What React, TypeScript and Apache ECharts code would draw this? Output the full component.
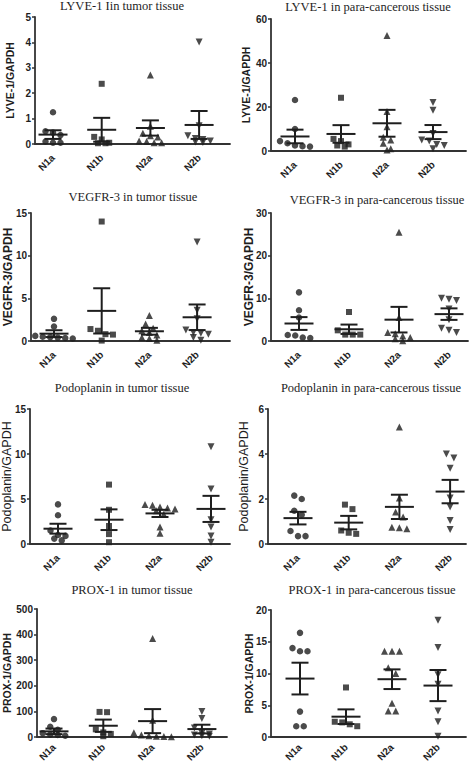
import React, { useEffect, useRef } from 'react';
import * as echarts from 'echarts';

const categories = ['N1a', 'N1b', 'N2a', 'N2b'];
const symbols = ['circle', 'rect', 'triangle', 'triangle'];
const symbolRotations = [0, 0, 0, 180];

const titles = [
  'LYVE-1 Iin tumor tissue',
  'LYVE-1 in para-cancerous tissue',
  'VEGFR-3 in tumor tissue',
  'VEGFR-3 in para-cancerous tissue',
  'Podoplanin in tumor tissue',
  'Podoplanin in para-cancerous tissue',
  'PROX-1 in tumor tissue',
  'PROX-1 in para-cancerous tissue',
];
const yNames = [
  'LYVE-1/GAPDH', 'LYVE-1/GAPDH', 'VEGFR-3/GAPDH', 'VEGFR-3/GAPDH',
  'Podoplanin/GAPDH', 'Podoplanin/GAPDH', 'PROX-1/GAPDH', 'PROX-1/GAPDH',
];
const yMax = [5, 60, 15, 30, 15, 6, 500, 20];
const yInterval = [1, 20, 5, 10, 5, 2, 100, 5];

// values per group: N1a, N1b, N2a, N2b
const lyveTumor = [
  [1.25, 0.5, 0.45, 0.35, 0.1, 0.05, 0.05],
  [2.37, 0.28, 0.18, 0.05, 0.03, 0.03],
  [2.72, 0.7, 0.42, 0.32, 0.28, 0.12, 0.1, 0.05, 0.05],
  [4.02, 0.72, 0.32, 0.22, 0.18, 0.12, 0.08, 0.06],
];
const lyveTumorMean = [0.37, 0.56, 0.63, 0.75];
const lyveTumorSem = [0.17, 0.47, 0.3, 0.55];

const lyvePara = [
  [23.2, 10, 4.5, 3.5, 2.5, 2.2, 2],
  [24.2, 5.5, 4.5, 3, 2.5, 2],
  [52.5, 18, 11, 6.3, 5, 3.5, 1, 0.5],
  [22, 18.5, 8, 5, 4.5, 3, 2.5, 1],
];
const lyveParaMean = [6.6, 7.75, 12.6, 8.6];
const lyveParaSem = [3.1, 4.0, 6.1, 3.2];

const vegfrTumor = [
  [2.6, 1.7, 0.6, 0.5, 0.45, 0.4, 0.35, 0.3],
  [14, 1.4, 1.2, 0.8, 0.75, 0.05],
  [3, 2, 1.5, 1.2, 1, 0.7, 0.4, 0.3, 0.1],
  [11.6, 3.6, 2.6, 1.3, 1.0, 0.9, 0.8, 0.4, 0.1],
];
const vegfrTumorMean = [0.86, 3.53, 1.14, 2.78];
const vegfrTumorSem = [0.4, 2.65, 0.4, 1.5];

const vegfrPara = [
  [11.4, 7.2, 5.5, 1.4, 1.3, 0.8, 0.7],
  [6.8, 2.5, 1.5, 1.5, 1.5],
  [25.5, 5.5, 2, 1.7, 1.2, 0.8, 0.5, 0.05],
  [10, 9.8, 9.5, 7.5, 5, 3, 2.5, 2],
];
const vegfrParaMean = [4.1, 2.75, 5.0, 6.3];
const vegfrParaSem = [1.5, 1.1, 3.0, 1.35];

const podoTumor = [
  [4.4, 3.2, 1.5, 1.0, 0.9, 0.6, 0.4],
  [6.6, 3.8, 2.0, 1.1, 0.2],
  [4.4, 4.3, 4.1, 4.0, 3.9, 3.7, 3.3, 1.9, 1.2],
  [10.8, 6.1, 2.7, 1.9, 0.9, 0.2],
];
const podoTumorMean = [1.7, 2.7, 3.4, 3.9];
const podoTumorSem = [0.55, 1.15, 0.4, 1.45];

const podoPara = [
  [2.15, 2.0, 1.48, 1.3, 0.58, 0.35, 0.35],
  [1.75, 1.55, 0.6, 0.5, 0.45],
  [5.2, 2.05, 1.42, 1.2, 0.75, 0.72, 0.68],
  [4.0, 3.82, 3.37, 2.05, 1.65, 1.04, 0.65],
];
const podoParaMean = [1.15, 0.95, 1.65, 2.33];
const podoParaSem = [0.28, 0.3, 0.54, 0.52];

const proxTumor = [
  [70, 40, 28, 15, 10, 8, 5],
  [98, 97, 30, 18, 12, 3],
  [385, 65, 17, 8, 5, 3, 2, 1],
  [100, 72, 35, 15, 12, 8, 5, 3],
];
const proxTumorMean = [22, 44, 62, 31];
const proxTumorSem = [11, 24, 47, 17];

const proxPara = [
  [16.4, 14, 13.5, 13.5, 4, 1.7, 1.7],
  [7.8, 2.4, 2.3, 2.0, 1.7],
  [13.5, 13.5, 13.5, 10.9, 10.0, 5.3, 4.1, 4.1],
  [18.4, 14.1, 9.8, 8.3, 4.1, 2.4, 0.1],
];
const proxParaMean = [9.2, 3.2, 9.1, 8.1];
const proxParaSem = [2.5, 1.15, 1.55, 2.45];

const panelValues = [lyveTumor, lyvePara, vegfrTumor, vegfrPara, podoTumor, podoPara, proxTumor, proxPara];
const panelMeans = [lyveTumorMean, lyveParaMean, vegfrTumorMean, vegfrParaMean, podoTumorMean, podoParaMean, proxTumorMean, proxParaMean];
const panelSems = [lyveTumorSem, lyveParaSem, vegfrTumorSem, vegfrParaSem, podoTumorSem, podoParaSem, proxTumorSem, proxParaSem];

// layout (pixels)
const layout = [
  { left: 35, right: 230, top: 17, bottom: 144, c0: 53, step: 48.7, tx: 122, ty: 6, nx: 9.5, ns: 10.5, nb: true, lm: 12 },
  { left: 271, right: 466, top: 19, bottom: 151, c0: 295, step: 46, tx: 368, ty: 7, nx: 246, ns: 10.5, nb: true, lm: 12 },
  { left: 31, right: 230, top: 213, bottom: 341, c0: 54, step: 47.7, tx: 133, ty: 197, nx: 8, ns: 12, nb: true, lm: 12 },
  { left: 271, right: 468, top: 213, bottom: 341, c0: 299, step: 50, tx: 377, ty: 200, nx: 249, ns: 12, nb: true, lm: 12 },
  { left: 30, right: 230, top: 409, bottom: 544, c0: 58, step: 51, tx: 122, ty: 388, nx: 6.5, ns: 12.5, nb: false, lm: 12 },
  { left: 268, right: 466, top: 409, bottom: 544, c0: 298, step: 50.7, tx: 371, ty: 388, nx: 244, ns: 12.5, nb: false, lm: 12 },
  { left: 37, right: 227, top: 609, bottom: 737, c0: 54, step: 49.3, tx: 132, ty: 590, nx: 7, ns: 10.5, nb: true, lm: 8.5 },
  { left: 271, right: 466, top: 610, bottom: 737, c0: 300, step: 46, tx: 372, ty: 590, nx: 249, ns: 10.5, nb: true, lm: 8.5 },
];

const INK = '#1e1e1e';
const AXIS = '#333';

// Prism-like horizontal spreading of overlapping points (computed, not data)
function spread(values: number[], pxPerUnit: number, step: number): number[] {
  const d = 7.5;
  const order = values.map((v, i) => ({ v, i })).sort((a, b) => b.v - a.v);
  const rows: { y0: number; items: { v: number; i: number }[] }[] = [];
  for (const p of order) {
    const y = p.v * pxPerUnit;
    const row = rows[rows.length - 1];
    if (row && row.y0 - y < d * 0.8) row.items.push(p);
    else rows.push({ y0: y, items: [p] });
  }
  const xs: number[] = new Array(values.length).fill(0);
  rows.forEach((r) => {
    const n = r.items.length;
    r.items.forEach((p, k) => {
      xs[p.i] = ((k - (n - 1) / 2) * d) / step;
    });
  });
  return xs;
}

function buildOption() {
  const grid: any[] = [];
  const xAxis: any[] = [];
  const yAxis: any[] = [];
  const series: any[] = [];
  const graphic: any[] = [];

  layout.forEach((p, k) => {
    const h = p.bottom - p.top;
    grid.push({ left: p.left, top: p.top, width: p.right - p.left, height: h, containLabel: false, outerBoundsMode: 'none' });
    xAxis.push({
      type: 'value',
      gridIndex: k,
      min: -(p.c0 - p.left) / p.step,
      max: (p.right - p.c0) / p.step,
      axisLine: { show: true, onZero: false, lineStyle: { color: AXIS, width: 1.8 } },
      axisTick: { show: false },
      splitLine: { show: false },
      axisLabel: {
        customValues: [0, 1, 2, 3],
        formatter: (v: number) => categories[Math.round(v)] ?? '',
        rotate: 45,
        margin: p.lm,
        color: INK,
        fontFamily: 'Liberation Sans',
        fontWeight: 'bold',
        fontSize: 10,
      },
    });
    yAxis.push({
      type: 'value',
      gridIndex: k,
      min: 0,
      max: yMax[k],
      interval: yInterval[k],
      axisLine: { show: true, onZero: false, lineStyle: { color: AXIS, width: 1.8 } },
      axisTick: { show: true, length: 3, lineStyle: { color: AXIS, width: 1.5 } },
      splitLine: { show: false },
      axisLabel: {
        margin: 4,
        color: INK,
        fontFamily: 'Liberation Sans',
        fontWeight: 'bold',
        fontSize: 10,
      },
    });
    const pxPerUnit = h / yMax[k];
    panelValues[k].forEach((vals, c) => {
      const xs = spread(vals, pxPerUnit, p.step);
      series.push({
        type: 'scatter',
        xAxisIndex: k,
        yAxisIndex: k,
        symbol: symbols[c],
        symbolRotate: symbolRotations[c],
        symbolSize: c === 0 ? 6.5 : c === 1 ? 6 : 7,
        itemStyle: { color: INK },
        data: vals.map((v, i) => [c + xs[i], v]),
        z: 2,
      });
    });
    series.push({
      type: 'custom',
      xAxisIndex: k,
      yAxisIndex: k,
      z: 3,
      data: categories.map((_, c) => [c, panelMeans[k][c], panelSems[k][c]]),
      renderItem: (params: any, api: any) => {
        const x = api.value(0);
        const m = api.value(1);
        const s = api.value(2);
        const pm = api.coord([x, m]);
        const pt = api.coord([x, m + s]);
        const pb = api.coord([x, m - s]);
        const style = { stroke: INK, lineWidth: 2, fill: null };
        const half = 14.5;
        const wh = 8.5;
        return {
          type: 'group',
          children: [
            { type: 'line', shape: { x1: pm[0] - half, y1: pm[1], x2: pm[0] + half, y2: pm[1] }, style },
            { type: 'line', shape: { x1: pt[0], y1: pt[1], x2: pb[0], y2: pb[1] }, style },
            { type: 'line', shape: { x1: pt[0] - wh, y1: pt[1], x2: pt[0] + wh, y2: pt[1] }, style },
            { type: 'line', shape: { x1: pb[0] - wh, y1: pb[1], x2: pb[0] + wh, y2: pb[1] }, style },
          ],
        };
      },
    });
    graphic.push({
      type: 'text',
      x: p.tx,
      y: p.ty,
      style: {
        text: titles[k],
        fill: INK,
        font: '12.5px "Liberation Serif"',
        align: 'center',
        verticalAlign: 'middle',
      },
    });
    graphic.push({
      type: 'text',
      x: p.nx,
      y: (p.top + p.bottom) / 2,
      rotation: Math.PI / 2,
      style: {
        text: yNames[k],
        fill: INK,
        font: `${p.nb ? 'bold ' : ''}${p.ns}px "Liberation Sans"`,
        align: 'center',
        verticalAlign: 'middle',
      },
    });
  });

  return { animation: false, backgroundColor: '#fff', grid, xAxis, yAxis, series, graphic };
}

export default function App() {
  const ref = useRef<HTMLDivElement>(null);
  useEffect(() => {
    if (!ref.current) return;
    const chart = echarts.init(ref.current, undefined, { renderer: 'svg' });
    chart.setOption(buildOption() as any);
    return () => chart.dispose();
  }, []);
  return (
    <div
      ref={ref}
      style={{ position: 'fixed', left: 0, top: 0, width: 472, height: 764, background: '#fff' }}
    />
  );
}
